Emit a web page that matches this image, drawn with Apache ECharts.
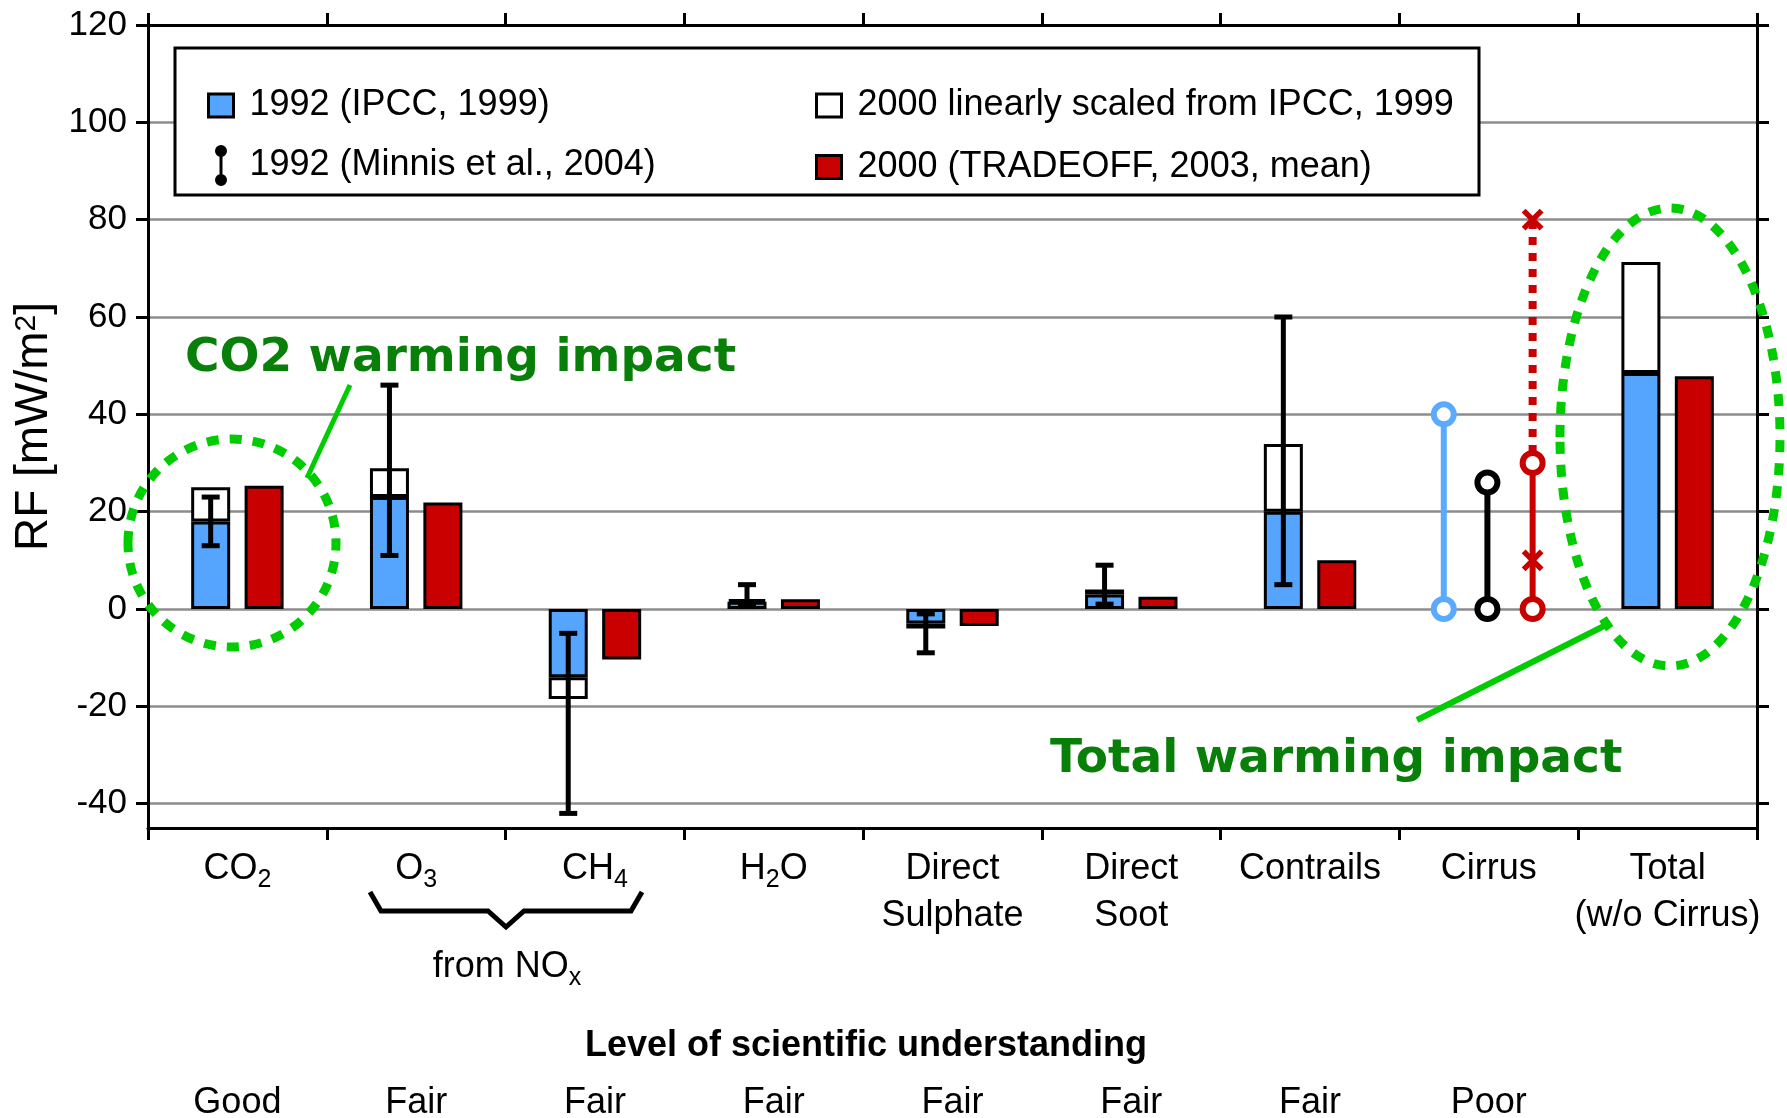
<!DOCTYPE html>
<html><head><meta charset="utf-8">
<script src="https://cdn.jsdelivr.net/npm/echarts@6/dist/echarts.min.js"></script>
<style>html,body{margin:0;padding:0;background:#fff}#c{width:1787px;height:1118px}</style>
</head><body><div id="c"></div><script>
// ---------------- data ----------------
const categories = ['CO2', 'O3', 'CH4', 'H2O', 'Direct Sulphate', 'Direct Soot', 'Contrails', 'Cirrus', 'Total (w/o Cirrus)'];
const categoryLabels = ['CO{s|2}', 'O{s|3}', 'CH{s|4}', 'H{s|2}O', 'Direct\nSulphate', 'Direct\nSoot', 'Contrails', 'Cirrus', 'Total\n(w/o Cirrus)'];
const understanding = ['Good', 'Fair', 'Fair', 'Fair', 'Fair', 'Fair', 'Fair', 'Poor', ''];
const ipcc1992 = [18.0, 23.0, -14.0, 1.5, -3.0, 3.0, 20.0, null, 48.5];
const scaled2000 = [25.0, 28.9, -18.5, 2.0, -4.0, 4.0, 33.9, null, 71.3];
const tradeoff2000 = [25.3, 21.9, -10.4, 2.0, -3.5, 2.5, 10.0, null, 47.8];
const ipccLow = [13, 11, -42, 0.5, -9, 1, 5, null, null];
const ipccHigh = [23, 46, -5, 5, -1, 9, 60, null, null];
const cirrusIpcc1992 = [0, 40];
const cirrusMinnis1992 = [0, 26];
const cirrusTradeoffSolid = [0, 30];
const cirrusTradeoffDotted = [30, 80];
const cirrusTradeoffCross = [10, 80];
const yTicks = [-40, -20, 0, 20, 40, 60, 80, 100, 120];

// ---------------- styling ----------------
const FONT = 'Liberation Sans';
const BLUE = '#55A5FF', RED = '#C80000', CIRRUS_BLUE = '#5AAAFF';
const BAR_W = 39, BAR_GAP = '37%';
const N_IPCC = '1992 (IPCC, 1999)';
const N_MINNIS = '1992 (Minnis et al., 2004)';
const N_SCALED = '2000 linearly scaled from IPCC, 1999';
const N_TRADE = '2000 (TRADEOFF, 2003, mean)';
// icons drawn inside a 47x41 frame (the moveTo points fix the frame)
const SQ = 'path://M0,0M47,41M11,9L36,9L36,32L11,32Z';
const DUMB = 'path://M0,0M47,41M17.5,6A6,6 0 1 1 29.5,6A6,6 0 1 1 17.5,6Z M17.5,35A6,6 0 1 1 29.5,35A6,6 0 1 1 17.5,35Z M22,8L25,8L25,33L22,33Z';

const whiteDiff = scaled2000.map((v, i) => v == null ? null : +(v - ipcc1992[i]).toFixed(2));
const errData = [];
ipccLow.forEach((lo, i) => { if (lo != null) errData.push([i, lo, ipccHigh[i]]); });
const ci = categories.indexOf('Cirrus');

function blueCenterOffset(api) {
  if (api.barLayout) {
    const l = api.barLayout({ barWidth: BAR_W, barGap: BAR_GAP, count: 2 });
    if (l && l[0] && isFinite(l[0].offsetCenter)) return l[0].offsetCenter;
  }
  return -(BAR_W * (1 + parseFloat(BAR_GAP) / 100)) / 2;
}

function errRender(params, api) {
  const i = api.value(0), lo = api.value(1), hi = api.value(2);
  const x = api.coord([i, 0])[0] + blueCenterOffset(api);
  const yLo = api.coord([i, lo])[1], yHi = api.coord([i, hi])[1];
  const h = 9;
  return { type: 'group', children: [
    { type: 'line', shape: { x1: x, y1: yLo, x2: x, y2: yHi }, style: { stroke: '#000', lineWidth: 5 } },
    { type: 'line', shape: { x1: x - h, y1: yLo, x2: x + h, y2: yLo }, style: { stroke: '#000', lineWidth: 5 } },
    { type: 'line', shape: { x1: x - h, y1: yHi, x2: x + h, y2: yHi }, style: { stroke: '#000', lineWidth: 5 } }
  ]};
}

const R = 10, LW = 6;
function dumbbell(color, frac) {
  return function (params, api) {
    const i = api.value(0), lo = api.value(1), hi = api.value(2);
    const x = api.coord([i, 0])[0] + frac * api.size([1, 0])[0];
    const y0 = api.coord([i, lo])[1], y1 = api.coord([i, hi])[1];
    return { type: 'group', children: [
      { type: 'line', shape: { x1: x, y1: y0, x2: x, y2: y1 }, style: { stroke: color, lineWidth: LW } },
      { type: 'circle', shape: { cx: x, cy: y0, r: R }, style: { fill: '#fff', stroke: color, lineWidth: LW } },
      { type: 'circle', shape: { cx: x, cy: y1, r: R }, style: { fill: '#fff', stroke: color, lineWidth: LW } }
    ]};
  };
}
function cross(x, y, color) {
  const h = 9;
  return [
    { type: 'line', shape: { x1: x - h, y1: y - h, x2: x + h, y2: y + h }, style: { stroke: color, lineWidth: 5.5 } },
    { type: 'line', shape: { x1: x - h, y1: y + h, x2: x + h, y2: y - h }, style: { stroke: color, lineWidth: 5.5 } }
  ];
}
function redRender(params, api) {
  const i = api.value(0), lo = api.value(1), hi = api.value(2), top = api.value(3), c1 = api.value(4);
  const x = api.coord([i, 0])[0] + 0.245 * api.size([1, 0])[0];
  const y0 = api.coord([i, lo])[1], y1 = api.coord([i, hi])[1], yt = api.coord([i, top])[1], yc = api.coord([i, c1])[1];
  return { type: 'group', children: [
    { type: 'line', shape: { x1: x, y1: y1 - R, x2: x, y2: yt }, style: { stroke: RED, lineWidth: 8, lineDash: [8, 8] } },
    { type: 'line', shape: { x1: x, y1: y0, x2: x, y2: y1 }, style: { stroke: RED, lineWidth: LW } },
    ...cross(x, yc, RED),
    ...cross(x, yt, RED),
    { type: 'circle', shape: { cx: x, cy: y0, r: R }, style: { fill: '#fff', stroke: RED, lineWidth: LW } },
    { type: 'circle', shape: { cx: x, cy: y1, r: R }, style: { fill: '#fff', stroke: RED, lineWidth: LW } }
  ]};
}

const axisLineStyle = { color: '#000', width: 3 };
const legendCommon = {
  orient: 'vertical', top: 83.5, padding: 0, itemGap: 17.5, itemWidth: 47, itemHeight: 41,
  selectedMode: false, z: 6, symbolKeepAspect: true,
  textStyle: { fontSize: 36, color: '#000', fontFamily: FONT }
};

const GREEN = '#00CC00', DKGREEN = '#087F08';
const bigGreen = 'bold 47px "DejaVu Sans"';

const option = {
  animation: false,
  backgroundColor: '#fff',
  textStyle: { fontFamily: FONT, color: '#000' },
  grid: { left: 148, right: 30, top: 25, bottom: 290, containLabel: false, outerBoundsMode: 'none' },
  legend: [
    Object.assign({}, legendCommon, { left: 196, data: [
      { name: N_IPCC, icon: SQ, itemStyle: { color: BLUE, borderColor: '#000', borderWidth: 3 } },
      { name: N_MINNIS, icon: DUMB, itemStyle: { color: '#000', borderWidth: 0 } }
    ]}),
    Object.assign({}, legendCommon, { left: 804, data: [
      { name: N_SCALED, icon: SQ, itemStyle: { color: '#fff', borderColor: '#000', borderWidth: 3 } },
      { name: N_TRADE, icon: SQ, itemStyle: { color: RED, borderColor: '#000', borderWidth: 3 } }
    ]})
  ],
  xAxis: [
    { type: 'category', data: categories, position: 'bottom',
      axisLine: { show: true, onZero: false, lineStyle: axisLineStyle },
      axisTick: { show: true, inside: false, length: 12, lineStyle: axisLineStyle },
      axisLabel: { interval: 0, margin: 18, fontSize: 36, lineHeight: 47, color: '#000', fontFamily: FONT,
        formatter: (v, i) => categoryLabels[i],
        rich: { s: { fontSize: 25, lineHeight: 17, verticalAlign: 'bottom', color: '#000', fontFamily: FONT } } },
      splitLine: { show: false } },
    { type: 'category', data: categories, position: 'top',
      axisLine: { show: true, onZero: false, lineStyle: axisLineStyle },
      axisTick: { show: true, inside: false, length: 12, lineStyle: axisLineStyle },
      axisLabel: { show: false }, splitLine: { show: false } },
    { type: 'category', data: categories, position: 'bottom', offset: 240,
      axisLine: { show: false }, axisTick: { show: false }, splitLine: { show: false },
      axisLabel: { interval: 0, margin: 15, fontSize: 36, lineHeight: 40, color: '#000', fontFamily: FONT,
        formatter: (v, i) => understanding[i] } }
  ],
  yAxis: [
    { type: 'value', min: -45, max: 120, position: 'left',
      name: 'RF [mW/m{sup|2}]', nameLocation: 'middle', nameGap: 89,
      nameTextStyle: { fontSize: 46, lineHeight: 46, color: '#000', fontFamily: FONT,
        rich: { sup: { fontSize: 30, lineHeight: 30, verticalAlign: 'top', color: '#000', fontFamily: FONT } } },
      axisLine: { show: true, onZero: false, lineStyle: axisLineStyle },
      axisTick: { show: true, inside: false, length: 12, customValues: yTicks, lineStyle: axisLineStyle },
      axisLabel: { customValues: yTicks, fontSize: 35, margin: 21, color: '#000', fontFamily: FONT },
      splitLine: { show: true, lineStyle: { color: '#8C8C8C', width: 2.5 } } },
    { type: 'value', min: -45, max: 120, position: 'right',
      axisLine: { show: true, onZero: false, lineStyle: axisLineStyle },
      axisTick: { show: true, inside: false, length: 12, customValues: yTicks, lineStyle: axisLineStyle },
      axisLabel: { show: false }, splitLine: { show: false } }
  ],
  series: [
    { name: N_IPCC, type: 'bar', stack: 'ipcc', data: ipcc1992, barWidth: BAR_W, barGap: BAR_GAP,
      itemStyle: { color: BLUE, borderColor: '#000', borderWidth: 3 } },
    { name: N_SCALED, type: 'bar', stack: 'ipcc', data: whiteDiff, barWidth: BAR_W, barGap: BAR_GAP,
      itemStyle: { color: '#fff', borderColor: '#000', borderWidth: 3 } },
    { name: N_TRADE, type: 'bar', data: tradeoff2000, barWidth: BAR_W, barGap: BAR_GAP,
      itemStyle: { color: RED, borderColor: '#000', borderWidth: 3 } },
    { name: 'IPCC (1999) uncertainty range', type: 'custom', data: errData, renderItem: errRender, z: 3 },
    { name: N_IPCC, type: 'custom', data: [[ci, cirrusIpcc1992[0], cirrusIpcc1992[1]]],
      renderItem: dumbbell(CIRRUS_BLUE, -0.252), itemStyle: { color: CIRRUS_BLUE }, z: 3 },
    { name: N_MINNIS, type: 'custom', data: [[ci, cirrusMinnis1992[0], cirrusMinnis1992[1]]],
      renderItem: dumbbell('#000', -0.008), itemStyle: { color: '#000' }, z: 3 },
    { name: N_TRADE, type: 'custom',
      data: [[ci, cirrusTradeoffSolid[0], cirrusTradeoffSolid[1], cirrusTradeoffDotted[1], cirrusTradeoffCross[0]]],
      renderItem: redRender, itemStyle: { color: RED }, z: 3 }
  ],
  graphic: [
    // legend frame
    { type: 'rect', z: 3, shape: { x: 175, y: 48, width: 1304, height: 147 },
      style: { fill: '#fff', stroke: '#000', lineWidth: 3 } },
    // CO2 annotation
    { type: 'ellipse', z: 10, shape: { cx: 232, cy: 543, rx: 104, ry: 104 },
      style: { fill: null, stroke: GREEN, lineWidth: 9, lineDash: [12, 11] } },
    { type: 'line', z: 10, shape: { x1: 350, y1: 385, x2: 307, y2: 478 },
      style: { stroke: GREEN, lineWidth: 5 } },
    { type: 'text', z: 10, x: 185, y: 359,
      style: { text: 'CO2 warming impact', font: bigGreen, fill: DKGREEN, align: 'left', verticalAlign: 'middle', textAlign: 'left', textVerticalAlign: 'middle' } },
    // Total annotation
    { type: 'ellipse', z: 10, shape: { cx: 1670, cy: 437, rx: 110, ry: 229 },
      style: { fill: null, stroke: GREEN, lineWidth: 9, lineDash: [12, 11] } },
    { type: 'line', z: 10, shape: { x1: 1610, y1: 623, x2: 1417, y2: 720 },
      style: { stroke: GREEN, lineWidth: 6 } },
    { type: 'text', z: 10, x: 1050, y: 760,
      style: { text: 'Total warming impact', font: bigGreen, fill: DKGREEN, align: 'left', verticalAlign: 'middle', textAlign: 'left', textVerticalAlign: 'middle' } },
    // brace under O3 / CH4
    { type: 'polyline', z: 10, shape: { points: [[370, 892], [381, 911], [488, 911], [506, 927], [524, 911], [631, 911], [642, 892]] },
      style: { fill: null, stroke: '#000', lineWidth: 5, lineJoin: 'miter' } },
    { type: 'text', z: 10, x: 507, y: 967,
      style: { text: 'from NO{s|x}', fontSize: 36, fontFamily: FONT, lineHeight: 47, fill: '#000',
        align: 'center', verticalAlign: 'middle', textAlign: 'center', textVerticalAlign: 'middle',
        rich: { s: { fontSize: 25, lineHeight: 17, verticalAlign: 'bottom', fontFamily: FONT, fill: '#000' } } } },
    { type: 'text', z: 10, x: 866, y: 1046,
      style: { text: 'Level of scientific understanding', font: 'bold 36px "Liberation Sans"', fill: '#000',
        align: 'center', verticalAlign: 'middle', textAlign: 'center', textVerticalAlign: 'middle' } }
  ]
};

const chart = echarts.init(document.getElementById('c'), null, { renderer: 'canvas' });
chart.setOption(option);
</script></body></html>
